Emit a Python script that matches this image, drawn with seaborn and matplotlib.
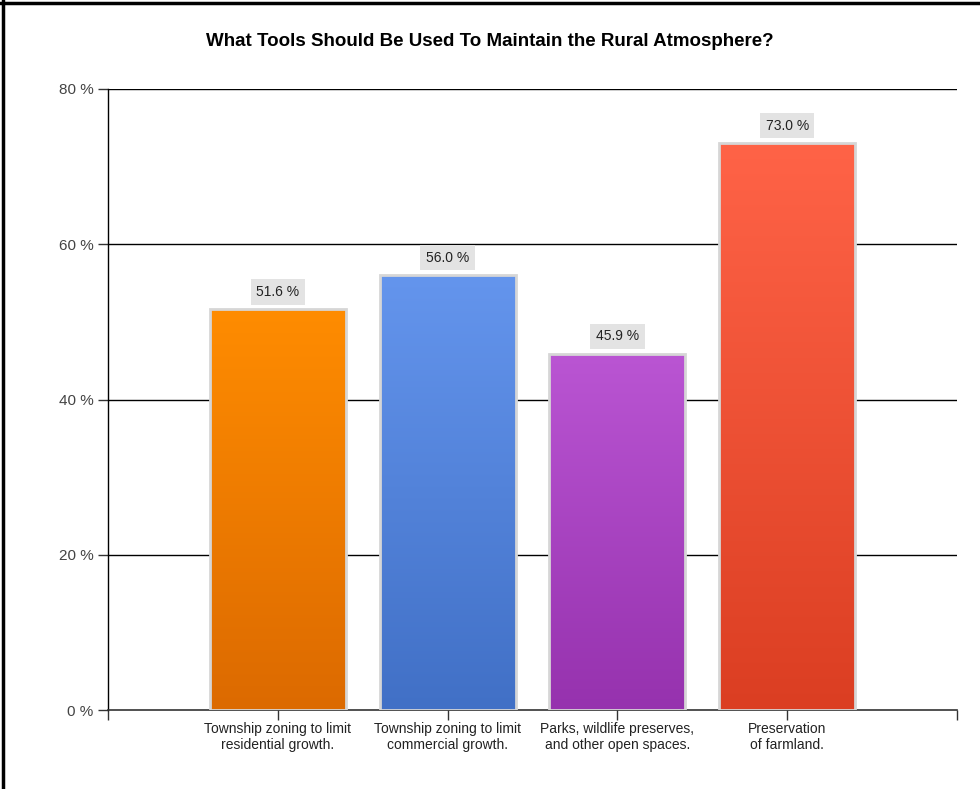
import numpy as np
import pandas as pd
import matplotlib
matplotlib.use("Agg")
import matplotlib.pyplot as plt
import seaborn as sns
from matplotlib.colors import LinearSegmentedColormap
from matplotlib.lines import Line2D

categories = ["Township zoning to limit\nresidential growth.",
              "Township zoning to limit\ncommercial growth.",
              "Parks, wildlife preserves,\nand other open spaces.",
              "Preservation\nof farmland."]
values = [51.6, 56.0, 45.9, 73.0]
top_colors = ["#FF8C00", "#6495ED", "#BA55D3", "#FF6347"]
bottom_colors = ["#DC6A00", "#4170C6", "#9632AE", "#DB3E22"]
yticks = [0, 20, 40, 60, 80]
title = "What Tools Should Be Used To Maintain the Rural Atmosphere?"

sns.set_theme(style="white")
plt.rcParams['font.family'] = ['Liberation Sans', 'DejaVu Sans']

fig = plt.figure(figsize=(9.8, 7.89), dpi=100)
ax = fig.add_axes([108/980, 1-710/789, (957-108)/980, (710-89)/789])

df = pd.DataFrame({"pos": [1, 2, 3, 4], "val": values})
sns.barplot(data=df, x="pos", y="val", native_scale=True, width=0.8,
            color="white", ax=ax, zorder=3)

for i, p in enumerate(ax.patches):
    x0, y0 = p.get_x(), p.get_y()
    w, h = p.get_width(), p.get_height()
    cmap = LinearSegmentedColormap.from_list("g", [bottom_colors[i], top_colors[i]])
    grad = np.linspace(0, 1, 256).reshape(-1, 1)
    im = ax.imshow(grad, cmap=cmap, aspect="auto", origin="lower",
                   extent=[x0, x0 + w, y0, y0 + h], zorder=3)
    im.set_clip_path(p)
    p.set_facecolor("none")
    p.set_edgecolor("#D6D6D6")
    p.set_linewidth(2)
    p.set_zorder(4)
    ax.annotate(f"{values[i]:.1f} %", (x0 + w/2, y0 + h), xytext=(0, 7.5),
                textcoords="offset points", ha="center", va="bottom",
                fontsize=10, color="#222222",
                bbox=dict(boxstyle="square,pad=0.4", fc="#E3E3E3", ec="none"))

ax.set_xlim(0, 5)
ax.set_ylim(0, 80)
ax.set_yticks(yticks)
ax.set_yticklabels([f"{t} %" for t in yticks], fontsize=11, color="#444444")
ax.set_xticks([0, 1, 2, 3, 4, 5])
ax.set_xticklabels([""] + categories + [""], fontsize=10, color="#222222",
                   linespacing=1.2)
ax.tick_params(axis="both", which="both", direction="out", length=7, width=1,
               color="#333333", left=True, bottom=True)
ax.tick_params(axis="x", pad=1.5)
ax.set_xlabel("")
ax.set_ylabel("")
for y in yticks[1:]:
    ax.axhline(y, color="black", lw=1, zorder=1)
for s in ["top", "right"]:
    ax.spines[s].set_visible(False)
ax.spines["left"].set_color("black")
ax.spines["bottom"].set_color("#333333")
ax.spines["left"].set_linewidth(1)
ax.spines["bottom"].set_linewidth(1.2)

fig.text(0.5, 1-42/789, title, ha="center", va="center",
         fontsize=13.5, fontweight="bold", color="black")

fig.add_artist(Line2D([0, 1], [1-2.5/789, 1-2.5/789], transform=fig.transFigure,
                      color="black", lw=2.5))
fig.add_artist(Line2D([2.5/980, 2.5/980], [0, 1], transform=fig.transFigure,
                      color="black", lw=2.5))

fig.savefig("out.png", dpi=100)
